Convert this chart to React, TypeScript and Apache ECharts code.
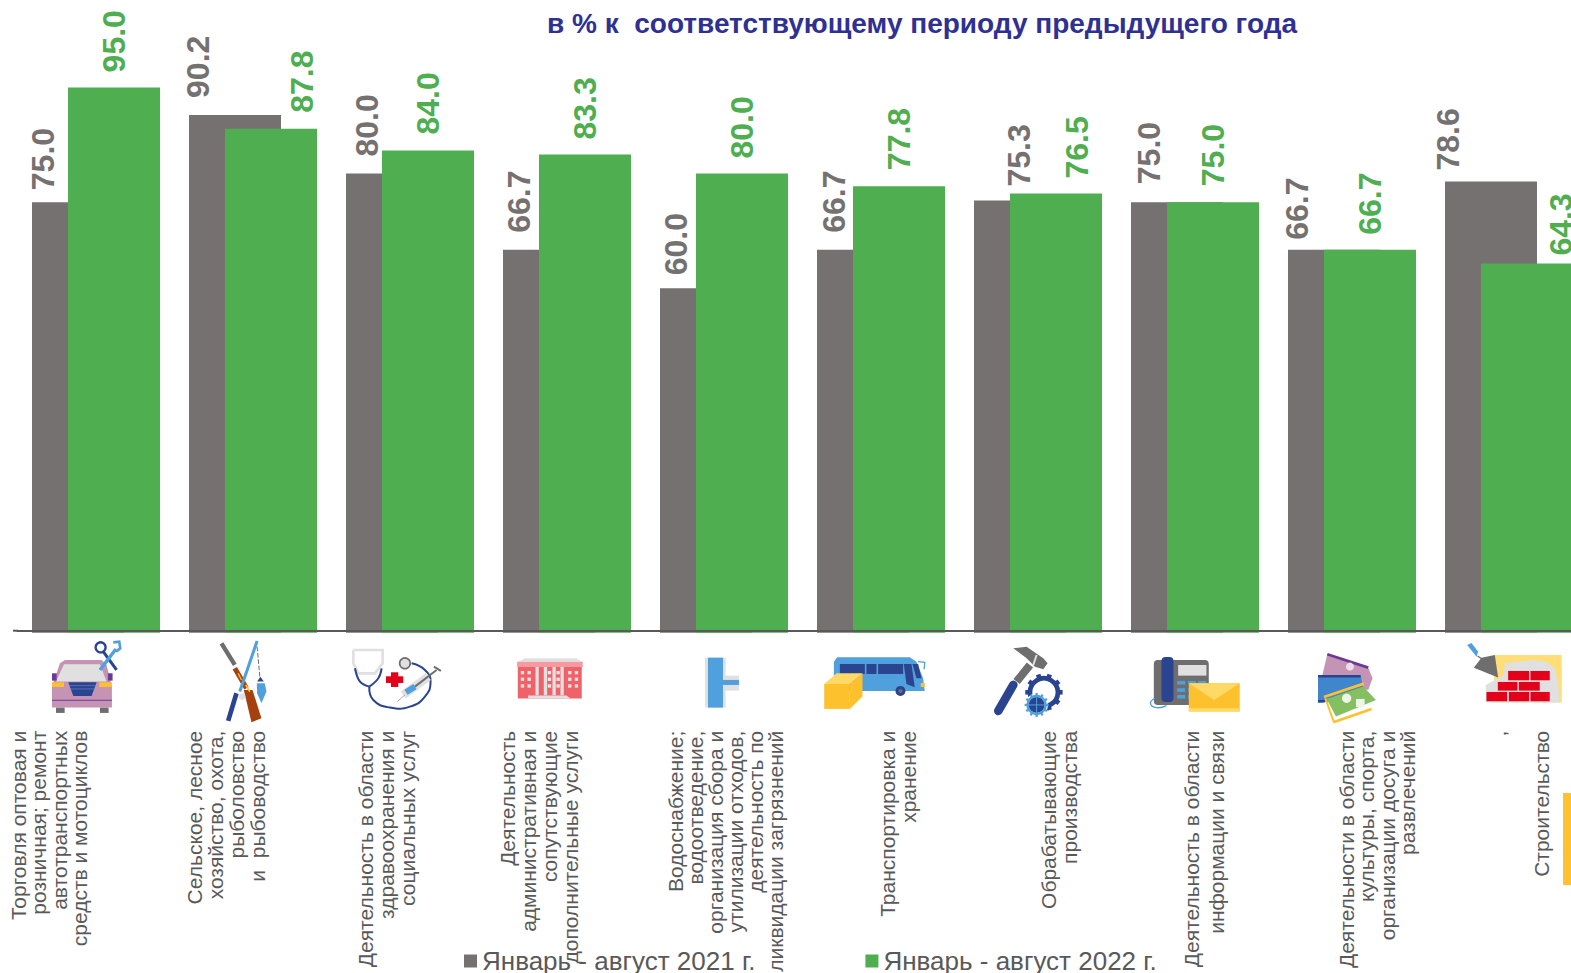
import React, { useEffect, useRef } from "react";
import * as echarts from "echarts";

const categories = [
  "Торговля оптовая и\nрозничная; ремонт\nавтотранспортных\nсредств и мотоциклов",
  "Сельское, лесное\nхозяйство, охота,\nрыболовство\nи  рыбоводство",
  "Деятельность в области\nздравоохранения и\nсоциальных услуг",
  "Деятельность\nадминистративная и\nсопутствующие\nдополнительные услуги",
  "Водоснабжение;\nводоотведение,\nорганизация сбора и\nутилизации отходов,\nдеятельность по\nликвидации загрязнений",
  "Транспортировка и\nхранение",
  "Обрабатывающие\nпроизводства",
  "Деятельность в области\nинформации и связи",
  "Деятельности в области\nкультуры, спорта,\nорганизации досуга и\nразвлечений",
  ",\n\nСтроительство",
];
const values2021 = [75.0, 90.2, 80.0, 66.7, 60.0, 66.7, 75.3, 75.0, 66.7, 78.6];
const values2022 = [95.0, 87.8, 84.0, 83.3, 80.0, 77.8, 76.5, 75.0, 66.7, 64.3];
const name2021 = "Январь - август 2021 г.";
const name2022 = "Январь - август 2022 г.";
const titleText = "в % к  соответствующему периоду предыдущего года";

// layout: label nudges
const catShift = [-47, -27, -24, -28, 1, 17, 21, 9, 25, 11];
const catLineHeight = [20.4, 20.7, 21, 20.7, 20, 20.7, 20.7, 25, 20.2, 21.5];
const grayDx = [-35, -37, -25, -30, -30, -29, -1, -28, -37, -43];
const grayGap = [12, 17, 17, 17, 13, 17, 14, 18, 10, 11];
const greenDx = [0, 31, 0, 0, 0, 0, 21, 0, 0, 34];
const greenGap = [15, 16, 16, 15, 15, 16, 15, 16, 15, 8];

const FONT = "'Liberation Sans', Arial, sans-serif";
const GRAY = "#757170";
const GREEN = "#4EAE50";
const TEXT = "#595959";
const NAVY = "#2A4490";
const BLUE = "#4FA0DC";
const YEL = "#FDC12E";
const LY = "#FFD966";
const LG = "#E0E0E0";
const DG = "#6E6E6E";
const PINK = "#C594B4";
const PUR = "#6A3A96";
const RED = "#E2001A";
const BRN = "#A5410F";

const r = (x: number, y: number, width: number, height: number, fill: string, rad = 0) => ({
  type: "rect", shape: { x, y, width, height, r: rad }, style: { fill },
});
const pg = (points: number[][], fill: string) => ({ type: "polygon", shape: { points }, style: { fill } });
const l = (x1: number, y1: number, x2: number, y2: number, stroke: string, lineWidth: number, cap = "butt") => ({
  type: "line", shape: { x1, y1, x2, y2 }, style: { stroke, lineWidth, lineCap: cap },
});
const pl = (points: number[][], stroke: string, lineWidth: number, smooth = 0) => ({
  type: "polyline", shape: { points, smooth }, style: { stroke, lineWidth, fill: "none" },
});
const c = (cx: number, cy: number, rad: number, fill: string, stroke?: string, lineWidth = 0) => ({
  type: "circle", shape: { cx, cy, r: rad }, style: { fill, stroke, lineWidth },
});
const gear = (cx: number, cy: number, rad: number, tooth: number, width: number, color: string, n: number) => {
  const out: any[] = [c(cx, cy, rad, "none", color, width)];
  for (let i = 0; i < n; i++) {
    const a = (i * 2 * Math.PI) / n;
    out.push(l(cx + Math.cos(a) * rad, cy + Math.sin(a) * rad, cx + Math.cos(a) * (rad + tooth), cy + Math.sin(a) * (rad + tooth), color, width));
  }
  return out;
};
const icon = (x: number, y: number, children: any[]) => ({ type: "group", x, y, scaleX: 1 / 3, scaleY: 1 / 3, silent: true, children });

const icons = [
  icon(40, 635, [
    pg([[36, 155], [60, 85], [75, 75], [185, 75], [200, 90], [216, 155], [216, 218], [36, 218]], PINK),
    pg([[48, 140], [72, 88], [180, 88], [200, 140]], LG),
    r(36, 115, 14, 22, PUR), r(204, 115, 14, 22, PUR),
    r(36, 142, 36, 14, YEL), r(178, 142, 38, 14, YEL),
    pg([[85, 142], [170, 142], [155, 183], [100, 183]], NAVY),
    l(88, 152, 168, 152, "#6F86C4", 2), l(90, 162, 165, 162, "#6F86C4", 2),
    l(36, 196, 216, 196, PUR, 3),
    r(48, 218, 26, 16, DG), r(180, 218, 26, 16, DG),
    c(182, 37, 15, "none", NAVY, 7),
    l(190, 50, 230, 105, NAVY, 9),
    l(180, 105, 228, 42, BLUE, 10),
    pl([[220, 22], [238, 20], [241, 40], [228, 50]], BLUE, 8),
  ]),
  icon(40, 635, [
    l(545, 25, 585, 90, DG, 13),
    l(585, 100, 620, 160, BRN, 15),
    pg([[612, 165], [638, 165], [665, 250], [635, 262]], BRN),
    l(595, 115, 605, 135, YEL, 4), l(618, 150, 630, 170, YEL, 5),
    l(652, 18, 600, 170, BLUE, 9),
    l(590, 175, 565, 258, NAVY, 14),
    { ...l(652, 35, 660, 125, DG, 3), style: { stroke: DG, lineWidth: 3, lineDash: [14, 5] } },
    pg([[652, 140], [672, 140], [662, 125]], NAVY),
    pg([[651, 145], [675, 145], [680, 170], [665, 205], [652, 175]], BLUE),
    c(607, 185, 10, LG),
  ]),
  icon(340, 635, [
    pl([[40, 45], [40, 85], [55, 115], [105, 115], [128, 85], [128, 45], [40, 45]], LG, 8),
    pl([[45, 100], [60, 140], [88, 155]], NAVY, 6, 0.4),
    pl([[125, 100], [115, 130], [88, 155]], NAVY, 6, 0.4),
    pl([[88, 155], [100, 195], [150, 218], [210, 215], [255, 185], [272, 140], [255, 105], [215, 85]], NAVY, 6, 0.5),
    c(195, 85, 16, LG, DG, 5),
    r(138, 124, 52, 20, RED), r(153, 112, 22, 44, RED),
    l(190, 180, 265, 125, LG, 26),
    l(198, 172, 225, 155, BLUE, 18),
    l(225, 155, 290, 105, DG, 6),
    l(172, 200, 195, 180, "#AAAAAA", 3),
    l(282, 95, 303, 108, DG, 6),
  ]),
  icon(340, 635, [
    pg([[535, 80], [555, 70], [710, 70], [728, 80]], LG),
    r(534, 96, 192, 95, "#EF626A"),
    r(532, 80, 197, 16, "#F49AA0"),
    r(587, 96, 10, 85, LG), r(612, 96, 10, 85, LG), r(638, 96, 10, 85, LG), r(662, 96, 10, 85, LG),
    ...[108, 128, 148].flatMap((y) => [543, 563, 685, 705, 624, 650].map((x) => r(x, y, 10, 10, "#FBE3E4"))),
    pg([[565, 191], [565, 182], [680, 182], [692, 191]], LG),
  ]),
  icon(690, 635, [
    r(45, 68, 62, 150, LG), r(100, 122, 47, 45, LG),
    r(54, 68, 45, 150, BLUE), r(95, 135, 52, 15, BLUE),
  ]),
  icon(690, 635, [
    pg([[432, 80], [442, 67], [660, 67], [680, 80], [700, 130], [705, 168], [432, 168]], BLUE),
    r(450, 87, 75, 30, NAVY), r(530, 87, 30, 30, NAVY), r(565, 87, 75, 30, NAVY),
    pg([[642, 87], [665, 87], [675, 157], [650, 147]], NAVY),
    pg([[668, 87], [685, 87], [695, 130], [680, 130]], NAVY),
    c(632, 168, 15, NAVY), c(632, 168, 6, DG),
    pl([[685, 80], [705, 82], [703, 103]], BLUE, 4),
    r(693, 144, 12, 12, YEL),
    pg([[403, 147], [480, 147], [480, 222], [403, 222]], YEL),
    pg([[480, 147], [518, 115], [518, 185], [480, 222]], YEL),
    pg([[403, 147], [440, 115], [518, 115], [480, 147]], LY),
  ]),
  icon(980, 635, [
    pg([[100, 40], [140, 35], [190, 70], [203, 85], [190, 103], [165, 95], [140, 70]], DG),
    l(170, 60, 160, 90, LG, 6),
    l(150, 90, 110, 140, DG, 24),
    l(100, 150, 55, 228, NAVY, 26, "round"),
    ...gear(192, 172, 42, 14, 14, NAVY, 10),
    c(170, 210, 34, "#FFFFFF"),
    c(170, 210, 24, NAVY),
    ...gear(170, 210, 27, 9, 7, BLUE, 12),
    l(145, 210, 195, 210, BLUE, 3), l(170, 185, 170, 235, BLUE, 3),
  ]),
  icon(980, 635, [
    r(522, 75, 165, 135, DG, 12),
    r(595, 90, 85, 32, LG),
    ...[138, 160, 180].flatMap((y) => [592, 625, 655].map((x) => r(x, y, 24, 11, BLUE))),
    pl([[525, 190], [512, 205], [530, 218], [560, 212]], BLUE, 4, 0.5),
    r(545, 66, 36, 135, NAVY, 12),
    r(627, 145, 153, 85, YEL),
    pg([[627, 145], [780, 145], [703, 195]], LY),
    r(627, 220, 153, 10, LY),
  ]),
  icon(1300, 635, [
    pg([[82, 58], [205, 98], [218, 130], [205, 165], [65, 130]], PINK),
    l(82, 58, 205, 98, PUR, 8),
    c(150, 95, 12, "#EEDDE8"),
    pg([[54, 120], [182, 120], [190, 160], [100, 200], [54, 203]], "#3F86CC"),
    r(54, 120, 128, 8, NAVY), r(54, 195, 20, 8, NAVY),
    pg([[80, 192], [190, 155], [228, 195], [108, 245]], "#84C062"),
    l(72, 186, 192, 146, YEL, 8), l(100, 262, 215, 222, YEL, 8), l(76, 190, 102, 262, YEL, 6),
    c(140, 190, 14, "#EEF6E8"), r(168, 192, 26, 24, "#EEF6E8"),
  ]),
  icon(1300, 635, [
    r(583, 60, 203, 143, "#FFDD77"),
    pg([[558, 202], [558, 150], [612, 120], [615, 85], [700, 75], [740, 80], [765, 100], [775, 140], [780, 203]], LG),
    r(625, 108, 63, 28, RED), r(692, 108, 58, 28, RED),
    r(594, 141, 59, 26, RED), r(657, 141, 63, 26, RED),
    r(560, 171, 62, 28, RED), r(627, 171, 61, 28, RED), r(692, 171, 58, 28, RED),
    pg([[502, 30], [515, 24], [535, 50], [530, 65]], BLUE),
    l(533, 63, 547, 72, DG, 4),
    pg([[545, 68], [585, 60], [595, 128], [522, 98]], DG),
  ]),
];

const catData = categories.map((value, i) => {
  const lh = catLineHeight[i];
  const half = (value.split("\n").length * lh) / 2;
  return {
    value,
    textStyle: {
      lineHeight: lh,
      verticalAlign: "top",
      padding: [catShift[i] - half, 0, 0, 0],
    },
  };
});

// rotated labels take their offset in the label's own frame: [along the text, across it]
const makeData = (vals: number[], dx: number[], gap: number[]) =>
  vals.map((value, i) => ({ value, label: { offset: [gap[i], dx[i]] } }));

const barLabel = (color: string) => ({
  show: true,
  position: "top",
  distance: 0,
  rotate: 90,
  align: "left",
  verticalAlign: "middle",
  fontFamily: FONT,
  fontWeight: "bold",
  fontSize: 32,
  color,
  formatter: (p: any) => Number(p.value).toFixed(1),
});

export default function App() {
  const ref = useRef<HTMLDivElement>(null);
  useEffect(() => {
    const chart = echarts.init(ref.current!, undefined, { renderer: "svg" });
    chart.setOption({
      animation: false,
      backgroundColor: "#FFFFFF",
      textStyle: { fontFamily: FONT },
      title: {
        text: titleText,
        left: 917,
        top: 4,
        textAlign: "center",
        textStyle: { fontFamily: FONT, fontSize: 28, fontWeight: "bold", color: "#2E3192" },
      },
      legend: {
        left: 464,
        top: 948,
        padding: 0,
        itemWidth: 13,
        itemHeight: 13,
        itemGap: 110,
        icon: "rect",
        data: [name2021, name2022],
        textStyle: { fontFamily: FONT, fontSize: 26, lineHeight: 26, color: TEXT },
      },
      grid: { left: 17.5, width: 1570, top: 58.7, height: 574, containLabel: false, outerBoundsMode: "none" },
      xAxis: {
        type: "category",
        data: catData,
        offset: -2,
        z: 5,
        axisLine: { onZero: false, lineStyle: { color: TEXT, width: 2 } },
        axisTick: { show: false },
        axisLabel: {
          interval: 0,
          rotate: 90,
          margin: 100,
          align: "right",
          verticalAlign: "middle",
          fontFamily: FONT,
          fontSize: 21,
          color: TEXT,
          hideOverlap: false,
        },
      },
      yAxis: { type: "value", min: 0, max: 100, show: false, splitLine: { show: false } },
      series: [
        {
          name: name2021,
          type: "bar",
          barWidth: 92,
          barGap: "-60.87%",
          itemStyle: { color: GRAY },
          label: barLabel(GRAY),
          data: makeData(values2021, grayDx, grayGap),
        },
        {
          name: name2022,
          type: "bar",
          barWidth: 92,
          itemStyle: { color: GREEN },
          label: barLabel(GREEN),
          data: makeData(values2022, greenDx, greenGap),
        },
      ],
      graphic: [
        { type: "line", silent: true, shape: { x1: 13, y1: 630.7, x2: 18, y2: 630.7 }, style: { stroke: TEXT, lineWidth: 2 } },
        { type: "rect", silent: true, shape: { x: 1563, y: 793, width: 8, height: 92 }, style: { fill: "#FFC22E" } },
        ...icons,
      ],
    });
    return () => chart.dispose();
  }, []);
  return (
    <div style={{ position: "absolute", left: 0, top: 0, width: 1571, height: 973, overflow: "hidden" }}>
      <div ref={ref} style={{ width: 1600, height: 973 }} />
    </div>
  );
}
